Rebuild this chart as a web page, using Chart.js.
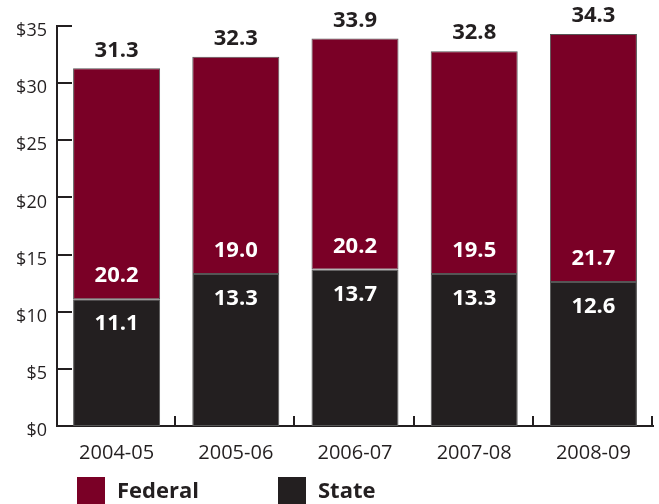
<!DOCTYPE html>
<html>
<head>
<meta charset="utf-8">
<script src="https://cdn.jsdelivr.net/npm/chart.js@4.4.1/dist/chart.umd.min.js"></script>
<style>
  html, body { margin: 0; padding: 0; background: #fff; }
  #wrap { position: relative; width: 659px; height: 504px; overflow: hidden; }
  .legend-item { position: absolute; top: 477px; font-family: "Open Sans", sans-serif; font-weight: 700; font-size: 22px; color: #231f20; }
  .legend-box { position: absolute; top: 0; left: 0; width: 28px; height: 28px; }
  .legend-label { position: absolute; left: 40px; top: -3px; white-space: nowrap; }
</style>
</head>
<body>
<div id="wrap">
  <canvas id="fundingChart" width="659" height="504"></canvas>
  <div class="legend-item" style="left:77px"><div class="legend-box" style="background:#7a0026"></div><span class="legend-label">Federal</span></div>
  <div class="legend-item" style="left:278px"><div class="legend-box" style="background:#231f20"></div><span class="legend-label">State</span></div>
</div>
<script>
// Funding by source, billions of dollars
const years = ['2004-05', '2005-06', '2006-07', '2007-08', '2008-09'];
const stateValues = [11.1, 13.3, 13.7, 13.3, 12.6];
const federalValues = [20.2, 19.0, 20.2, 19.5, 21.7];
const totalValues = [31.3, 32.3, 33.9, 32.8, 34.3];

const maroon = '#7a0026';
const ink = '#231f20';
const fontFamily = '"Open Sans", sans-serif';

// inward tick marks on both axes
const tickMarks = {
  id: 'tickMarks',
  afterDatasetsDraw(chart) {
    const ctx = chart.ctx;
    const y = chart.scales.y;
    const area = chart.chartArea;
    ctx.save();
    ctx.strokeStyle = ink;
    ctx.lineWidth = 2;
    ctx.beginPath();
    y.ticks.forEach((t, i) => {
      if (i === 0) return;
      const py = Math.round(y.getPixelForTick(i));
      ctx.moveTo(area.left, py);
      ctx.lineTo(area.left + 15, py);
    });
    const step = (area.right - area.left) / years.length;
    for (let i = 1; i <= years.length; i++) {
      const px = Math.round(area.left + step * i) - 1;
      ctx.moveTo(px, area.bottom);
      ctx.lineTo(px, area.bottom - 10);
    }
    ctx.stroke();
    ctx.restore();
  }
};

// value labels inside and above the bars
const valueLabels = {
  id: 'valueLabels',
  afterDatasetsDraw(chart) {
    const ctx = chart.ctx;
    const stateMeta = chart.getDatasetMeta(0);
    const fedMeta = chart.getDatasetMeta(1);
    ctx.save();
    ctx.font = 'bold 22px ' + fontFamily;
    ctx.textAlign = 'center';
    ctx.textBaseline = 'middle';
    stateMeta.data.forEach((bar, i) => {
      const fedBar = fedMeta.data[i];
      ctx.fillStyle = '#fff';
      ctx.fillText(stateValues[i].toFixed(1), bar.x, bar.y + 25);
      ctx.fillText(federalValues[i].toFixed(1), fedBar.x, bar.y - 23);
      ctx.fillStyle = ink;
      ctx.fillText(totalValues[i].toFixed(1), fedBar.x, fedBar.y - 18);
    });
    ctx.restore();
  }
};

new Chart(document.getElementById('fundingChart'), {
  type: 'bar',
  data: {
    labels: years,
    datasets: [
      {
        label: 'State',
        data: stateValues,
        backgroundColor: ink,
        borderColor: '#555',
        borderWidth: 1,
        borderSkipped: false
      },
      {
        label: 'Federal',
        data: federalValues,
        backgroundColor: maroon,
        borderColor: '#555',
        borderWidth: 1,
        borderSkipped: false
      }
    ]
  },
  options: {
    responsive: false,
    animation: false,
    events: [],
    layout: { padding: { top: 26, right: 6, left: 0, bottom: 0 } },
    datasets: { bar: { categoryPercentage: 1, barPercentage: 0.73 } },
    plugins: {
      legend: { display: false },
      tooltip: { enabled: false }
    },
    scales: {
      x: {
        stacked: true,
        grid: { display: false, drawTicks: false },
        border: { color: ink, width: 2 },
        ticks: { color: ink, padding: 15, font: { family: fontFamily, size: 20 }, maxRotation: 0 },
        afterFit(scale) { scale.height = 78; }
      },
      y: {
        stacked: true,
        min: 0,
        max: 35,
        grid: { display: false, drawTicks: false },
        border: { color: ink, width: 2 },
        ticks: {
          stepSize: 5,
          color: ink,
          padding: 10,
          labelOffset: 5,
          font: { family: fontFamily, size: 18 },
          callback: v => '$' + v
        },
        afterFit(scale) { scale.width = 57; }
      }
    }
  },
  plugins: [tickMarks, valueLabels]
});
</script>
</body>
</html>
